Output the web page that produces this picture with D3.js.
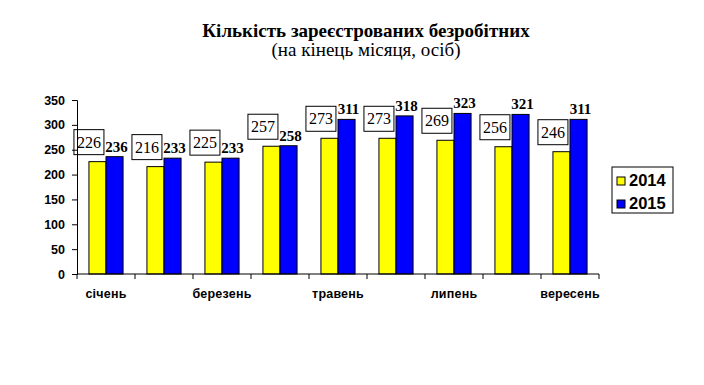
<!DOCTYPE html>
<html>
<head>
<meta charset="utf-8">
<script src="https://cdn.jsdelivr.net/npm/d3@7"></script>
<style>
  body { margin: 0; background: #fff; }
  svg { display: block; }
</style>
</head>
<body>
<script>
// дані
var months = ["січень", "лютий", "березень", "квітень", "травень", "червень", "липень", "серпень", "вересень"];
var shownMonths = ["січень", "березень", "травень", "липень", "вересень"];
var years = ["2014", "2015"];
var values2014 = [226, 216, 225, 257, 273, 273, 269, 256, 246];
var values2015 = [236, 233, 233, 258, 311, 318, 323, 321, 311];
var yTicks = [0, 50, 100, 150, 200, 250, 300, 350];
var colors = ["#ffff00", "#0000ff"];

var w = 704, h = 385;
var plotLeft = 77, plotRight = 599, plotTop = 100, plotBottom = 274;

var svg = d3.select("body").append("svg")
  .attr("width", w)
  .attr("height", h);

// заголовок
svg.append("text")
  .attr("x", 366).attr("y", 37)
  .attr("text-anchor", "middle")
  .attr("font-family", "Liberation Serif, Times New Roman, serif")
  .attr("font-weight", "bold")
  .attr("font-size", "19px")
  .text("Кількість зареєстрованих безробітних");
svg.append("text")
  .attr("x", 366).attr("y", 56)
  .attr("text-anchor", "middle")
  .attr("font-family", "Liberation Serif, Times New Roman, serif")
  .attr("font-size", "19px")
  .text("(на кінець місяця, осіб)");

var x0 = d3.scaleBand().domain(months).range([plotLeft, plotRight]).padding(0);
var x1 = d3.scaleBand().domain(years).range([0, x0.bandwidth()])
  .paddingInner(0).paddingOuter(0.7);
var y = d3.scaleLinear().domain([0, 350]).range([plotBottom, plotTop]);

var rows = months.map(function(m, i) {
  return {month: m, vals: [values2014[i], values2015[i]]};
});

// стовпчики
var g = svg.selectAll("g.grp")
  .data(rows)
  .enter().append("g")
  .attr("class", "grp")
  .attr("transform", function(d) { return "translate(" + x0(d.month) + ",0)"; });

g.selectAll("rect")
  .data(function(d) { return d.vals.map(function(v, k) { return {year: years[k], v: v, k: k}; }); })
  .enter().append("rect")
  .attr("x", function(d) { return x1(d.year); })
  .attr("y", function(d) { return y(d.v); })
  .attr("width", x1.bandwidth())
  .attr("height", function(d) { return y(0) - y(d.v); })
  .attr("fill", function(d) { return colors[d.k]; })
  .attr("stroke", "#000")
  .attr("stroke-width", 1);

// підписи 2014 у рамках
g.each(function(d) {
  var grp = d3.select(this);
  var cx = x1("2014");
  var t = grp.append("text")
    .attr("x", cx)
    .attr("y", y(d.vals[0]) - 14)
    .attr("text-anchor", "middle")
    .attr("font-family", "Liberation Serif, Times New Roman, serif")
    .attr("font-size", "16px")
    .text(d.vals[0]);
  var bb = t.node().getBBox();
  grp.insert("rect", "text")
    .attr("x", bb.x - 3)
    .attr("y", y(d.vals[0]) - 7 - 25)
    .attr("width", bb.width + 6)
    .attr("height", 25)
    .attr("fill", "#fff")
    .attr("stroke", "#000")
    .attr("stroke-width", 1);
});

// підписи 2015
g.append("text")
  .attr("x", function() { return x1("2015") + x1.bandwidth() / 2 + 2; })
  .attr("y", function(d) { return y(d.vals[1]) - 5; })
  .attr("text-anchor", "middle")
  .attr("font-family", "Liberation Serif, Times New Roman, serif")
  .attr("font-weight", "bold")
  .attr("font-size", "15px")
  .text(function(d) { return d.vals[1]; });

// вісь Y
var yAxis = svg.append("g")
  .attr("transform", "translate(" + plotLeft + ",0)")
  .call(d3.axisLeft(y).tickValues(yTicks).tickSize(5).tickPadding(7));
yAxis.selectAll("text")
  .attr("font-family", "Liberation Sans, Arial, sans-serif")
  .attr("font-weight", "bold")
  .attr("font-size", "12.5px")
  .attr("fill", "#000");

// вісь X
var xLine = svg.append("g");
xLine.append("line")
  .attr("x1", plotLeft).attr("x2", plotRight)
  .attr("y1", plotBottom).attr("y2", plotBottom)
  .attr("stroke", "#000");
xLine.selectAll("line.tk")
  .data(months.concat(["end"]))
  .enter().append("line")
  .attr("class", "tk")
  .attr("x1", function(d, i) { return plotLeft + i * x0.step(); })
  .attr("x2", function(d, i) { return plotLeft + i * x0.step(); })
  .attr("y1", plotBottom).attr("y2", plotBottom + 5)
  .attr("stroke", "#000");
xLine.selectAll("text")
  .data(shownMonths)
  .enter().append("text")
  .attr("x", function(d) { return x0(d) + x0.bandwidth() / 2; })
  .attr("y", 298)
  .attr("text-anchor", "middle")
  .attr("font-family", "Liberation Sans, Arial, sans-serif")
  .attr("font-weight", "bold")
  .attr("font-size", "12.5px")
  .attr("letter-spacing", "0.2px")
  .text(function(d) { return d; });

// легенда
var lg = svg.append("g").attr("transform", "translate(612,167)");
lg.append("rect")
  .attr("width", 61).attr("height", 46)
  .attr("fill", "#fff").attr("stroke", "#000");
var li = lg.selectAll("g.li")
  .data(years)
  .enter().append("g")
  .attr("class", "li")
  .attr("transform", function(d, i) { return "translate(5," + (10 + i * 23) + ")"; });
li.append("rect")
  .attr("width", 8).attr("height", 8)
  .attr("fill", function(d, i) { return colors[i]; })
  .attr("stroke", "#000");
li.append("text")
  .attr("x", 12).attr("y", 8.5)
  .attr("font-family", "Liberation Sans, Arial, sans-serif")
  .attr("font-weight", "bold")
  .attr("font-size", "16.5px")
  .text(function(d) { return d; });
</script>
</body>
</html>
